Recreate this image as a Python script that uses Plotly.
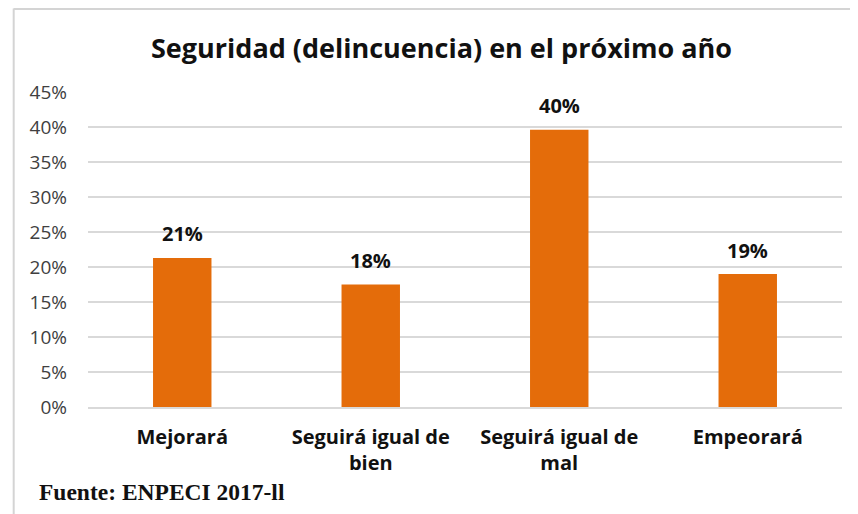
import plotly.graph_objects as go

categories = ["Mejorará", "Seguirá igual de bien", "Seguirá igual de mal", "Empeorará"]
tick_labels = ["Mejorará", "Seguirá igual de<br>bien", "Seguirá igual de<br>mal", "Empeorará"]
values = [21.3, 17.5, 39.6, 19.0]
value_labels = ["21%", "18%", "40%", "19%"]
y_ticks = [0, 5, 10, 15, 20, 25, 30, 35, 40, 45]
y_tick_labels = [f"{v}%" for v in y_ticks]

# page body has an 8px default margin; work in page pixels, convert to figure
OFF = 8
W, H = 858 - OFF, 514 - OFF
PL, PR, PT, PB = 88, 842, 92, 407  # plot area in page pixels
ML, MT = PL - OFF, PT - OFF
MR = W - (PR - OFF)
MB = H - (PB - OFF)
PW, PH = PR - PL, PB - PT

def px_x(p):
    return (p - PL) / PW

def px_y(p):
    return 1 - (p - PT) / PH

BAR = "#E46C0A"
FONT = "Open Sans, Noto Sans, sans-serif"

fig = go.Figure()
fig.add_trace(go.Bar(
    x=categories, y=values,
    marker=dict(color=BAR, line=dict(width=0)),
    hoverinfo="skip",
))

for c, v, t in zip(categories, values, value_labels):
    fig.add_annotation(x=c, y=v, text=f"<b>{t}</b>", showarrow=False,
                       yshift=24, font=dict(family=FONT, size=20, color="#111"))

fig.add_annotation(xref="paper", yref="paper", x=px_x(37), y=px_y(492),
                   xanchor="left", yanchor="middle", showarrow=False,
                   text="<b>Fuente: ENPECI 2017-ll</b>",
                   font=dict(family="Liberation Serif, serif", size=23.5, color="#111"))

fig.add_annotation(xref="paper", yref="paper", x=px_x(441.5), y=px_y(47),
                   xanchor="center", yanchor="middle", showarrow=False,
                   text="<b>Seguridad (delincuencia) en el próximo año</b>",
                   font=dict(family=FONT, size=27, color="#111"))

# chart border (left and top)
fig.add_shape(type="line", xref="paper", yref="paper",
              x0=px_x(13.7), x1=px_x(13.7), y0=px_y(8.5), y1=px_y(530),
              line=dict(color="#D4D4D4", width=2))
fig.add_shape(type="line", xref="paper", yref="paper",
              x0=px_x(13.7), x1=px_x(870), y0=px_y(9), y1=px_y(9),
              line=dict(color="#D4D4D4", width=2))

fig.update_layout(
    width=W, height=H,
    margin=dict(l=ML, r=MR, t=MT, b=MB, pad=0),
    plot_bgcolor="white", paper_bgcolor="white",
    bargap=0.69,
    showlegend=False,
    xaxis=dict(tickmode="array", tickvals=categories, ticktext=[f"<b>{t}</b>" for t in tick_labels],
               tickfont=dict(family=FONT, size=20, color="#111"),
               showline=True, linecolor="#D9D9D9", linewidth=2, ticks="", ticklen=0,
               showgrid=False, ticklabelstandoff=11),
    yaxis=dict(range=[0, 45], tickvals=y_ticks, ticktext=y_tick_labels,
               tickfont=dict(family=FONT, size=19, color="#404040"),
               showgrid=True, gridcolor="#D9D9D9", gridwidth=1.5,
               zeroline=False, showline=False, ticks="", ticklabelstandoff=20),
)

fig.write_html("out.html")
